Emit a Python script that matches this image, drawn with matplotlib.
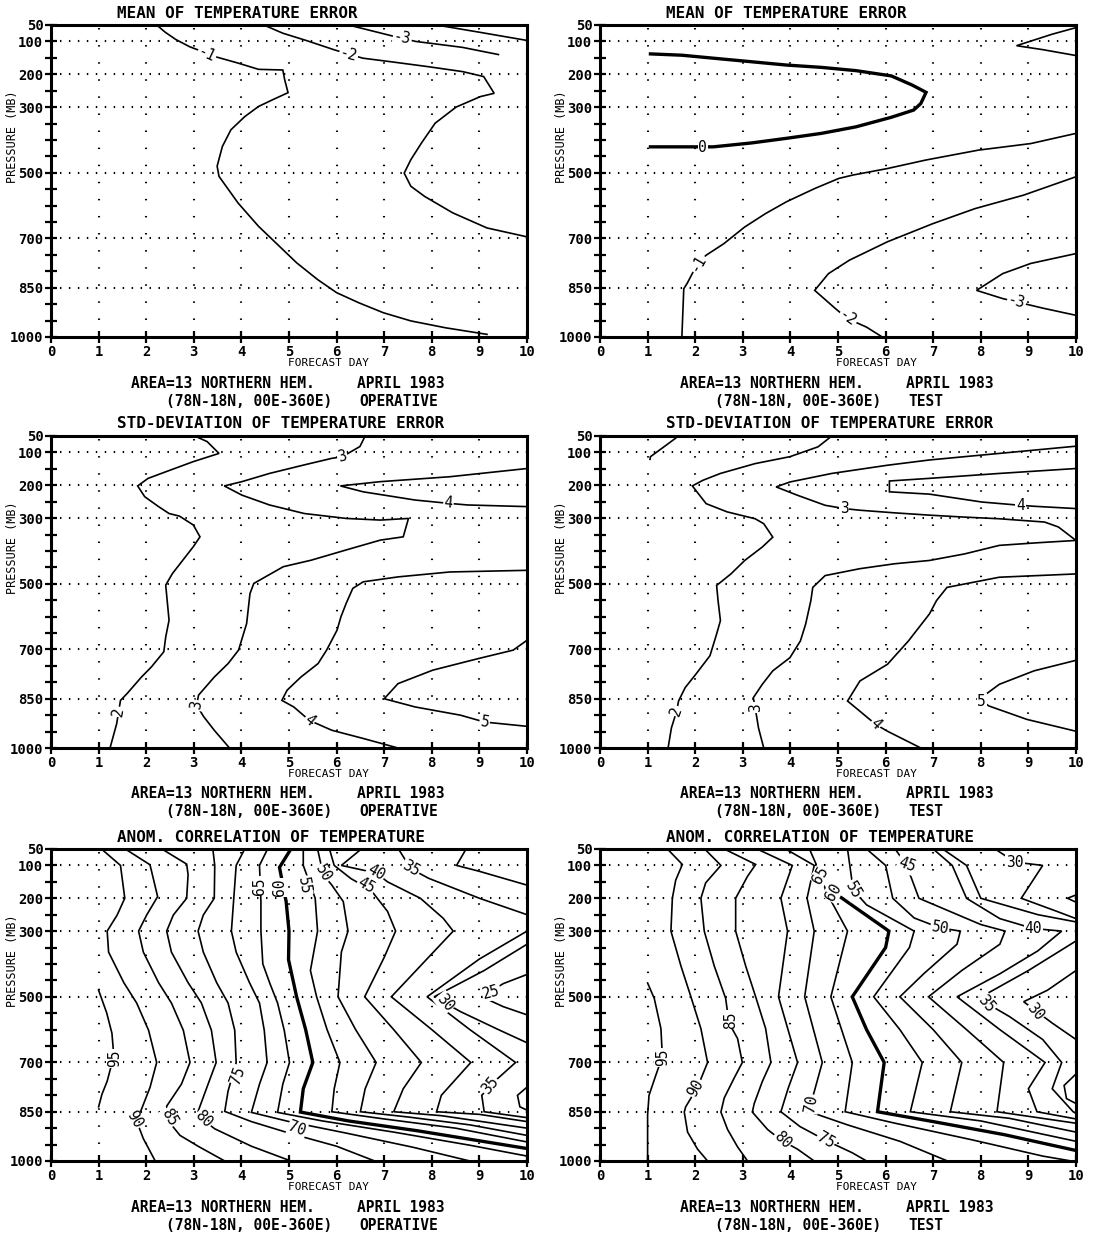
import numpy as np
import matplotlib
matplotlib.use('Agg')
import matplotlib.pyplot as plt

plt.rcParams['font.family'] = ['DejaVu Sans Mono', 'DejaVu Sans']

# axis set-up shared by the six panels
DAY_TICKS = list(range(0, 11))
LEVEL_TICKS = list(range(50, 1001, 50))
LEVEL_LABELS = [50, 100, 200, 300, 500, 700, 850, 1000]
GRID_DAYS = list(range(1, 10))
GRID_LEVELS = [100, 200, 300, 500, 700, 850]

TITLES = ['MEAN OF TEMPERATURE ERROR',
          'STD-DEVIATION OF TEMPERATURE ERROR',
          'ANOM. CORRELATION OF TEMPERATURE']
RUNS = ['OPERATIVE', 'TEST']
AREA = 'AREA=13 NORTHERN HEM.'
BOX = '(78N-18N, 00E-360E)'
MONTH = 'APRIL 1983'

# contour traces: (value, [(forecast day, pressure mb), ...])
MEAN_OP = [
    (-1, [(2.22, 50), (2.4, 72), (2.62, 94), (2.91, 116), (3.49, 148), (3.93, 166),
          (4.36, 185), (4.87, 187), (4.91, 217), (4.98, 256), (4.65, 278), (4.36, 298),
          (4.07, 329), (3.78, 369), (3.6, 420), (3.49, 480), (3.53, 511), (3.93, 592),
          (4.36, 663), (4.8, 724), (5.16, 774), (5.6, 825), (6.0, 865), (6.47, 896),
          (6.98, 926), (7.56, 951), (8.29, 972), (9.16, 992)]),
    (-2, [(4.47, 50), (4.87, 75), (5.38, 98), (5.96, 126), (6.55, 151), (7.2, 163),
          (7.93, 177), (8.65, 192), (9.09, 207), (9.31, 258), (9.02, 268), (8.51, 300),
          (8.07, 349), (7.78, 410), (7.56, 460), (7.42, 501), (7.56, 541), (7.85, 572),
          (8.44, 622), (9.16, 668), (10.0, 695)]),
    (-3, [(6.25, 50), (7.16, 83), (7.66, 100), (8.64, 118), (9.4, 140)]),
    (-3, [(8.1, 50), (9.0, 72), (10.0, 97)]),
]
MEAN_OP_LABELS = [('-1', 3.27, 140, -25), ('-2', 6.25, 141, -15), ('-3', 7.38, 90, -10)]

MEAN_TEST = [
    (0, [(1.06, 138), (1.72, 142), (2.45, 152), (3.19, 162), (3.92, 172), (4.65, 179),
         (5.38, 189), (6.12, 205), (6.56, 233), (6.85, 255), (6.74, 289), (6.59, 309),
         (6.12, 331), (5.38, 360), (4.65, 380), (3.92, 395), (3.19, 409), (2.38, 421),
         (1.06, 421)]),
    (-1, [(1.72, 1000), (1.76, 853), (1.83, 837), (2.05, 776), (2.23, 751), (2.6, 716),
          (3.04, 665), (3.48, 624), (3.92, 588), (4.51, 548), (5.02, 517), (5.31, 507),
          (6.04, 487), (6.85, 461), (7.95, 431), (9.05, 411), (10.0, 380)]),
    (-2, [(5.93, 1000), (5.6, 970), (5.2, 944), (4.95, 914), (4.51, 858), (4.8, 807),
          (5.24, 766), (6.04, 710), (6.99, 655), (7.88, 609), (8.9, 568), (10.0, 512)]),
    (-3, [(10.0, 934), (9.3, 912), (8.75, 893), (8.46, 883), (7.91, 858), (8.46, 807),
          (9.05, 776), (10.0, 746)]),
    (-1, [(10.0, 58), (9.5, 78), (8.75, 113), (9.3, 125), (10.0, 143)]),
]
MEAN_TEST_LABELS = [('0', 2.16, 424, 0), ('-1', 2.05, 776, 60), ('-2', 5.2, 944, -35),
                    ('-3', 8.75, 893, -15)]

STD_OP = [
    (2, [(3.02, 50), (3.28, 67), (3.53, 103), (2.99, 128), (2.41, 159), (2.04, 179),
         (1.82, 202), (1.97, 235), (2.26, 265), (2.48, 286), (2.7, 294), (2.99, 321),
         (3.13, 357), (2.99, 387), (2.77, 428), (2.55, 469), (2.41, 504), (2.44, 550),
         (2.48, 611), (2.41, 662), (2.37, 707), (2.11, 753), (1.9, 784), (1.6, 834),
         (1.46, 855), (1.42, 890), (1.38, 926), (1.24, 1000)]),
    (3, [(6.6, 50), (6.49, 82), (6.12, 113), (5.9, 118), (5.32, 138), (4.59, 164),
         (4.01, 189), (3.64, 202), (4.01, 230), (4.59, 260), (5.32, 286), (6.2, 301),
         (6.92, 306), (7.51, 301), (7.4, 357), (6.92, 367), (6.2, 397), (5.47, 428),
         (4.88, 448), (4.26, 499), (4.18, 530), (4.11, 621), (3.94, 702), (3.72, 743),
         (3.43, 784), (3.1, 839), (3.06, 870), (3.21, 905), (3.43, 946), (3.75, 1000)]),
    (4, [(10.0, 149), (8.38, 174), (6.92, 189), (6.08, 202), (6.56, 220), (7.65, 245),
         (8.35, 255), (8.75, 260), (10.0, 265)]),
    (4, [(10.0, 459), (8.38, 464), (7.29, 479), (6.56, 494), (6.34, 514), (6.2, 560),
         (6.09, 601), (6.01, 641), (5.79, 702), (5.61, 743), (5.25, 784), (4.96, 824),
         (4.85, 855), (5.1, 875), (5.43, 916), (5.9, 946), (6.56, 971), (7.29, 1000)]),
    (5, [(10.0, 672), (9.71, 702), (8.97, 728), (8.02, 763), (7.29, 804), (7.0, 850),
         (7.65, 875), (8.6, 900), (9.11, 921), (10.0, 934)]),
]
STD_OP_LABELS = [('3', 6.12, 113, 15), ('4', 8.35, 255, -5), ('2', 1.42, 890, 80),
                 ('3', 3.06, 870, 80), ('4', 5.43, 916, -40), ('5', 9.11, 921, -10)]

STD_TEST = [
    (2, [(1.65, 50), (1.39, 78), (1.06, 113), (1.05, 121)]),
    (2, [(4.87, 50), (4.58, 83), (3.99, 113), (3.26, 134), (2.53, 164), (2.16, 185),
         (1.94, 202), (2.09, 230), (2.23, 256), (2.67, 281), (3.26, 302), (3.44, 317),
         (3.63, 358), (3.41, 388), (3.04, 429), (2.75, 470), (2.45, 505), (2.48, 551),
         (2.53, 612), (2.45, 653), (2.31, 719), (2.01, 776), (1.79, 816), (1.65, 857),
         (1.61, 888), (1.5, 939), (1.43, 1000)]),
    (3, [(10.0, 81), (8.39, 103), (6.92, 123), (6.04, 139), (4.87, 164), (3.99, 190),
         (3.7, 205), (4.14, 230), (4.73, 261), (5.13, 271), (5.46, 276), (6.19, 284),
         (6.92, 291), (7.66, 297), (8.39, 302), (9.34, 312), (9.63, 327), (10.0, 368),
         (9.2, 375), (8.39, 383), (7.66, 409), (6.92, 429), (6.19, 439), (5.46, 454),
         (4.73, 475), (4.47, 511), (4.43, 551), (4.32, 623), (4.21, 674), (3.99, 725),
         (3.63, 765), (3.41, 806), (3.22, 847), (3.26, 877), (3.33, 939), (3.44, 1000)]),
    (4, [(10.0, 149), (8.39, 164), (6.92, 179), (6.08, 187), (6.08, 220), (6.92, 227),
         (8.02, 251), (8.83, 261), (9.12, 264), (10.0, 271)]),
    (4, [(10.0, 470), (8.39, 480), (7.29, 511), (7.07, 551), (6.92, 592), (6.48, 674),
         (6.04, 745), (5.46, 796), (5.2, 857), (5.46, 888), (5.79, 928), (6.04, 949),
         (6.74, 1000)]),
    (5, [(10.0, 733), (9.12, 765), (8.39, 806), (8.1, 837), (8.02, 857), (8.17, 872),
         (8.97, 913), (10.0, 949)]),
]
STD_TEST_LABELS = [('2', 1.61, 888, 70), ('3', 3.26, 877, 90), ('3', 5.13, 271, 0),
                   ('4', 8.83, 261, 0), ('4', 5.79, 928, -45), ('5', 8.02, 857, 0)]

ACC_OP = [
    (95, [(1.0, 480), (1.17, 549), (1.28, 611), (1.32, 680), (1.18, 757), (1.07, 797),
          (1.0, 835)]),
    (90, [(1.06, 50), (1.46, 100), (1.55, 200), (1.39, 251), (1.18, 300), (1.21, 364),
          (1.53, 457), (1.8, 519), (2.05, 602), (2.22, 700), (2.08, 776), (1.91, 839),
          (1.8, 879), (1.94, 932), (2.19, 1000)]),
    (85, [(1.56, 50), (2.08, 98), (2.24, 195), (2.01, 251), (1.84, 300), (1.94, 364),
          (2.26, 457), (2.53, 519), (2.78, 602), (2.92, 700), (2.74, 766), (2.43, 833),
          (2.47, 879), (2.71, 922), (3.09, 955), (3.65, 1000)]),
    (80, [(2.33, 50), (2.85, 96), (2.88, 128), (2.85, 200), (2.57, 251), (2.43, 300),
          (2.53, 364), (2.88, 457), (3.16, 519), (3.37, 602), (3.47, 700), (3.3, 766),
          (3.09, 849), (3.2, 875), (3.44, 902), (4.21, 955), (5.04, 1000)]),
    (75, [(3.4, 50), (3.44, 100), (3.43, 200), (3.2, 251), (3.09, 300), (3.2, 364),
          (3.48, 457), (3.72, 519), (3.86, 602), (3.89, 700), (3.72, 787), (3.65, 849),
          (4.21, 880), (5.0, 915), (6.0, 955), (6.8, 1000)]),
    (70, [(4.07, 50), (3.89, 100), (3.84, 200), (3.79, 300), (3.89, 364), (4.17, 457),
          (4.38, 519), (4.48, 602), (4.54, 700), (4.38, 766), (4.21, 852), (5.0, 880),
          (6.2, 915), (7.6, 958), (8.8, 1000)]),
    (65, [(4.55, 50), (4.38, 100), (4.41, 210), (4.41, 300), (4.45, 400), (4.6, 460),
          (4.76, 519), (4.9, 602), (5.01, 700), (4.87, 766), (4.76, 852), (5.7, 878),
          (7.2, 912), (8.8, 952), (10.0, 985)]),
    (60, [(5.04, 50), (4.8, 106), (4.94, 210), (5.0, 300), (4.99, 387), (5.1, 460),
          (5.16, 500), (5.35, 600), (5.5, 700), (5.3, 780), (5.24, 851), (6.25, 878),
          (7.7, 908), (10.0, 962)]),
    (55, [(5.3, 50), (5.3, 100), (5.55, 200), (5.6, 300), (5.45, 420), (5.58, 500),
          (5.8, 600), (6.07, 700), (5.95, 780), (5.9, 850), (7.0, 872), (8.5, 900),
          (10.0, 942)]),
    (50, [(5.6, 50), (5.72, 128), (5.9, 160), (6.14, 210), (6.24, 300), (6.1, 364),
          (6.03, 500), (6.4, 600), (6.83, 700), (6.6, 780), (6.5, 850), (7.5, 866),
          (8.8, 890), (10.0, 922)]),
    (45, [(5.85, 50), (5.95, 100), (6.3, 140), (6.72, 175), (7.07, 240), (7.24, 300),
          (7.0, 380), (6.59, 500), (7.2, 600), (7.78, 700), (7.4, 780), (7.2, 850),
          (8.2, 862), (10.0, 900)]),
    (40, [(6.52, 50), (6.1, 100), (6.83, 123), (7.07, 150), (7.76, 200), (8.24, 261),
          (8.45, 300), (7.8, 400), (7.15, 500), (8.0, 600), (8.82, 700), (8.2, 800),
          (8.1, 850), (9.0, 858), (10.0, 880)]),
    (35, [(7.3, 50), (7.56, 110), (7.93, 139), (9.0, 200), (10.0, 250)]),
    (35, [(10.0, 300), (9.0, 385), (7.9, 500), (8.8, 600), (9.76, 700), (9.3, 760),
          (9.05, 800), (9.1, 850), (10.0, 868)]),
    (30, [(8.72, 50), (8.52, 100), (9.0, 118), (10.0, 160)]),
    (30, [(10.0, 340), (9.1, 420), (8.05, 500), (8.6, 545), (9.4, 600), (10.0, 640)]),
    (25, [(10.0, 432), (9.5, 460), (9.05, 500), (9.5, 530), (10.0, 555)]),
    (35, [(10.0, 775), (9.8, 800), (9.85, 835), (10.0, 845)]),
]
ACC_OP_LABELS = [('95', 1.33, 687, 90), ('90', 1.76, 873, -60), ('85', 2.49, 867, -60),
                 ('80', 3.21, 873, -45), ('75', 3.93, 739, 70), ('70', 5.17, 903, -20),
                 ('65', 4.37, 162, 90), ('60', 4.8, 167, 90), ('55', 5.31, 162, -80),
                 ('50', 5.71, 125, -60), ('45', 6.62, 162, -30), ('40', 6.83, 121, -30),
                 ('35', 7.56, 110, -30), ('30', 8.28, 517, -50), ('25', 9.25, 486, 15),
                 ('35', 9.22, 770, 50)]

ACC_TEST = [
    (95, [(1.0, 458), (1.14, 505), (1.28, 597), (1.31, 682), (1.17, 740), (1.03, 800),
          (1.0, 860), (1.0, 1000)]),
    (90, [(1.45, 55), (1.73, 97), (1.59, 145), (1.52, 200), (1.49, 300), (1.7, 406),
          (1.91, 500), (2.12, 597), (2.26, 700), (2.05, 775), (1.8, 835), (1.77, 851),
          (1.84, 912), (2.05, 964), (2.26, 1000)]),
    (85, [(2.2, 50), (2.54, 100), (2.22, 153), (2.12, 200), (2.19, 300), (2.4, 406),
          (2.64, 505), (2.71, 580), (2.89, 627), (2.99, 700), (2.82, 747), (2.61, 808),
          (2.54, 851), (2.68, 904), (2.89, 957), (3.1, 1000)]),
    (80, [(2.61, 50), (3.27, 97), (3.1, 133), (2.85, 200), (2.85, 300), (3.06, 406),
          (3.27, 500), (3.48, 597), (3.59, 700), (3.41, 758), (3.24, 825), (3.2, 851),
          (3.52, 904), (3.8, 936), (4.15, 964), (4.5, 1000)]),
    (75, [(3.3, 50), (4.04, 100), (3.8, 200), (3.94, 300), (3.75, 500), (4.15, 700),
          (3.95, 780), (3.8, 850), (4.2, 895), (4.74, 937), (5.3, 975), (5.6, 1000)]),
    (70, [(3.9, 50), (4.5, 100), (4.35, 200), (4.5, 300), (4.3, 500), (4.67, 700),
          (4.43, 826), (4.5, 855), (5.2, 890), (6.3, 940), (7.3, 1000)]),
    (65, [(4.4, 50), (4.64, 129), (4.75, 180), (5.2, 300), (4.85, 500), (5.3, 700),
          (5.15, 850), (6.2, 885), (7.8, 935), (9.3, 985), (9.9, 1000)]),
    (60, [(4.9, 181), (5.48, 240), (6.07, 300), (6.0, 350), (5.3, 500), (5.6, 600),
          (5.97, 700), (5.83, 850), (7.0, 880), (8.5, 920), (10.0, 968)]),
    (55, [(5.2, 50), (5.32, 175), (5.6, 220), (6.6, 300), (6.5, 350), (5.75, 500),
          (6.3, 600), (6.77, 700), (6.52, 850), (8.0, 878), (10.0, 940)]),
    (50, [(5.6, 50), (6.0, 100), (6.15, 200), (6.6, 260), (7.14, 290), (7.57, 300),
          (7.5, 340), (6.8, 430), (6.3, 500), (7.0, 600), (7.6, 700), (7.36, 850),
          (8.6, 870), (10.0, 912)]),
    (45, [(6.2, 50), (6.44, 99), (6.7, 200), (8.0, 280), (8.51, 300), (8.4, 340),
          (7.6, 420), (6.9, 500), (7.7, 600), (8.48, 700), (8.34, 850), (10.0, 885)]),
    (40, [(7.0, 50), (7.4, 100), (7.7, 200), (8.4, 262), (9.1, 292), (9.7, 300),
          (9.2, 360), (8.4, 430), (7.5, 500), (8.4, 600), (9.35, 700), (9.0, 780),
          (9.18, 850), (10.0, 872)]),
    (35, [(7.2, 50), (7.7, 100), (8.0, 200), (9.2, 250), (10.0, 272)]),
    (30, [(8.3, 50), (8.72, 90), (9.3, 100), (8.85, 200), (9.6, 240), (10.0, 262)]),
    (35, [(10.0, 330), (9.0, 420), (7.95, 505), (8.6, 560), (9.3, 630), (9.7, 700),
          (9.5, 780), (9.94, 850), (10.0, 855)]),
    (30, [(10.0, 420), (9.4, 480), (8.9, 515), (9.5, 580), (10.0, 630)]),
    (30, [(10.0, 735), (9.75, 770), (9.8, 810), (10.0, 825)]),
    (30, [(10.0, 190), (9.82, 200), (10.0, 212)]),
]
ACC_TEST_LABELS = [('95', 1.31, 684, 90), ('90', 2.0, 777, 60), ('85', 2.75, 570, 90),
                   ('80', 3.83, 937, -45), ('75', 4.74, 937, -30), ('70', 4.43, 826, 80),
                   ('65', 4.64, 129, 60), ('60', 4.9, 181, 60), ('55', 5.32, 175, -60),
                   ('50', 7.14, 290, -10), ('45', 6.44, 99, -20), ('40', 9.1, 292, 0),
                   ('30', 8.72, 90, 0), ('35', 8.12, 520, -50), ('30', 9.15, 545, -50)]

PANELS = [
    (MEAN_OP, MEAN_OP_LABELS, 0, 0),
    (MEAN_TEST, MEAN_TEST_LABELS, 0, 1),
    (STD_OP, STD_OP_LABELS, 1, 0),
    (STD_TEST, STD_TEST_LABELS, 1, 1),
    (ACC_OP, ACC_OP_LABELS, 2, 0),
    (ACC_TEST, ACC_TEST_LABELS, 2, 1),
]
BOLD_VALUES = {0: 0, 2: 60}   # row -> highlighted isoline

W, H = 1093, 1233
fig = plt.figure(figsize=(W / 100, H / 100), dpi=100)
fig.patch.set_facecolor('white')

col_x = [51, 600]
row_top = [25, 436, 849]
ax_w, ax_h = 476, 312


def px_box(x0, top):
    return [x0 / W, 1 - (top + ax_h) / H, ax_w / W, ax_h / H]


for traces, labels, row, col in PANELS:
    ax = fig.add_axes(px_box(col_x[col], row_top[row]))
    ax.set_xlim(0, 10)
    ax.set_ylim(1000, 50)
    for s in ax.spines.values():
        s.set_linewidth(2.2)

    ax.set_xticks(DAY_TICKS)
    ax.set_yticks(LEVEL_TICKS)
    ax.set_yticklabels([str(v) if v in LEVEL_LABELS else '' for v in LEVEL_TICKS])
    ax.tick_params(axis='both', direction='inout', length=9, width=1.6,
                   labelsize=10, pad=1)
    for t in ax.get_xticklabels() + ax.get_yticklabels():
        t.set_fontweight('bold')

    # dotted reference grid
    for d in GRID_DAYS:
        ax.axvline(d, color='black', lw=1.5, dashes=(0.7, 7.5), zorder=1)
    for p in GRID_LEVELS:
        ax.axhline(p, color='black', lw=1.5, dashes=(0.7, 3.6), zorder=1)

    bold = BOLD_VALUES.get(row)
    for val, pts in traces:
        d, p = zip(*pts)
        lw = 2.4 if val == bold else 1.2
        ax.plot(d, p, color='black', lw=lw, solid_joinstyle='miter', zorder=3,
                clip_on=True)

    for txt, d, p, rot in labels:
        ax.text(d, p, txt, rotation=rot, ha='center', va='center', fontsize=10.5,
                rotation_mode='anchor', zorder=5,
                bbox=dict(facecolor='white', edgecolor='none', pad=0.6))

    # text around the frame
    x0 = col_x[col]
    top = row_top[row]
    bottom = top + ax_h
    fig.text((x0 + 66) / W, 1 - (top - 12) / H, TITLES[row], ha='left', va='center',
             fontsize=11.5, fontweight='bold')
    fig.text((x0 + 277) / W, 1 - (bottom + 26) / H, 'FORECAST DAY', ha='center',
             va='center', fontsize=8)
    fig.text((x0 - 38) / W, 1 - (top + 112) / H, 'PRESSURE (MB)', rotation=90,
             ha='center', va='center', fontsize=8.5)
    fig.text((x0 + 80) / W, 1 - (bottom + 46) / H, AREA, ha='left', va='center',
             fontsize=10.5, fontweight='bold')
    fig.text((x0 + 306) / W, 1 - (bottom + 46) / H, MONTH, ha='left', va='center',
             fontsize=10.5, fontweight='bold')
    fig.text((x0 + 115) / W, 1 - (bottom + 64) / H, BOX, ha='left', va='center',
             fontsize=10.5, fontweight='bold')
    fig.text((x0 + 308) / W, 1 - (bottom + 64) / H, RUNS[col], ha='left', va='center',
             fontsize=10.5, fontweight='bold')

fig.savefig('out.png', dpi=100, facecolor='white')
